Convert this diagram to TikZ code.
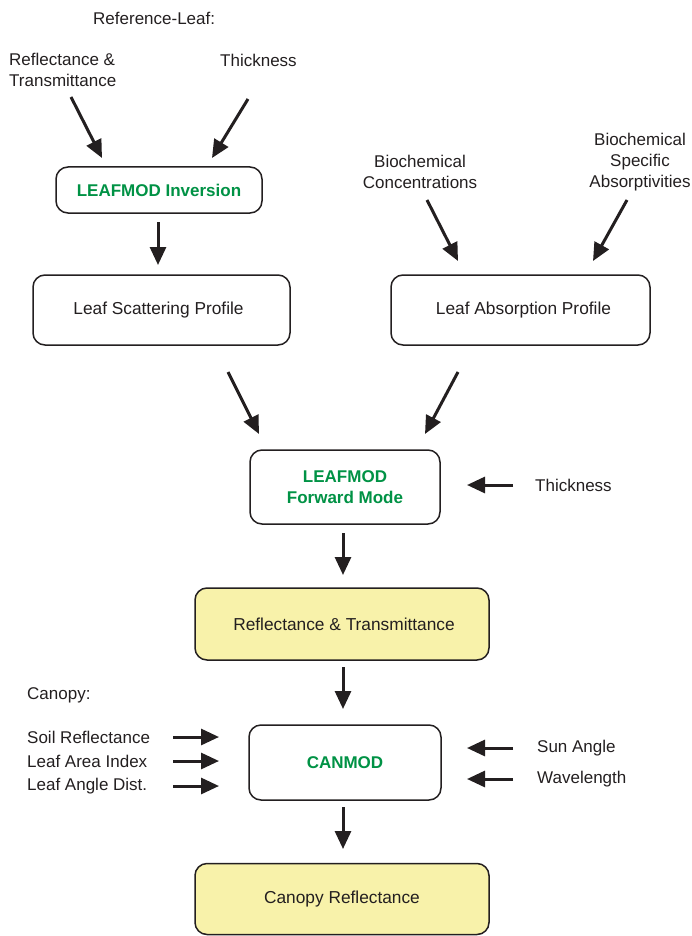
\documentclass[tikz,border=0pt]{standalone}
\usepackage{fontspec}
\setmainfont{Liberation Sans}
\usetikzlibrary{arrows.meta}
\definecolor{ink}{RGB}{35,31,32}
\definecolor{modgreen}{RGB}{0,146,69}
\definecolor{paleyellow}{RGB}{248,242,170}
\begin{document}
\begin{tikzpicture}[x=1pt,y=-1pt,
  txt/.style={inner sep=0pt,text=ink,font=\fontsize{17}{21}\selectfont},
  box/.style={draw=ink,line width=1.5pt,rounded corners=12pt,fill=white,text=ink,
    font=\fontsize{17.3}{21}\selectfont,align=center,inner sep=0pt},
  modbox/.style={box,text=modgreen,font=\fontsize{17}{21}\selectfont\bfseries},
  resbox/.style={box,fill=paleyellow},
  arr/.style={draw=ink,line width=3pt,-{Triangle[length=18pt,width=16pt]}}]
\useasboundingbox (0,0) rectangle (691,936);
% boxes
\node[modbox,minimum width=206pt,minimum height=46pt] (inv) at (159,190) {LEAFMOD Inversion};
\node[box,minimum width=257pt,minimum height=70pt] (scat) at (161.5,310) {\hspace*{-6pt}Leaf Scattering Profile};
\node[box,minimum width=259pt,minimum height=70pt] (abs) at (520.5,310) {\hspace*{6pt}Leaf Absorption Profile};
\node[modbox,minimum width=190pt,minimum height=74pt] (fwd) at (345,487) {LEAFMOD\\Forward Mode};
\node[resbox,minimum width=294pt,minimum height=72pt] (rt) at (342,624) {\hspace*{4pt}Reflectance \& Transmittance};
\node[modbox,minimum width=192pt,minimum height=75pt] (can) at (345,762.5) {CANMOD};
\node[resbox,minimum width=294pt,minimum height=71pt] (cr) at (342,899) {Canopy Reflectance};
% labels
\node[txt,anchor=west] (refleaf) at (93,18) {Reference-Leaf:};
\node[txt,anchor=west,align=left] (rtin) at (9,70) {Reflectance \&\\Transmittance};
\node[txt,anchor=west] (thk1) at (220,60) {Thickness};
\node[txt,align=center] (bconc) at (420,172) {Biochemical\\Concentrations};
\node[txt,align=center] (bspec) at (640,162) {Biochemical\\Specific\\Absorptivities};
\node[txt,anchor=west] (thk2) at (535,485) {Thickness};
\node[txt,anchor=west] (canopy) at (27,695) {Canopy:};
\node[txt,anchor=west] (soil) at (27,737) {Soil Reflectance};
\node[txt,anchor=west] (lai) at (27,761) {Leaf Area Index};
\node[txt,anchor=west] (lad) at (27,786) {Leaf Angle Dist.};
\node[txt,anchor=west] (sun) at (537,748) {Sun Angle};
\node[txt,anchor=west] (wave) at (537,779) {Wavelength};
% arrow end points
\coordinate (a1s) at (71,97);   \coordinate (a1e) at (102,158);
\coordinate (a2s) at (248,99);  \coordinate (a2e) at (212,158);
\coordinate (a3s) at (158,222); \coordinate (a3e) at (158,265);
\coordinate (a4s) at (427,200); \coordinate (a4e) at (458,261);
\coordinate (a5s) at (627,200); \coordinate (a5e) at (593,261);
\coordinate (a6s) at (228,372); \coordinate (a6e) at (259,434);
\coordinate (a7s) at (458,372); \coordinate (a7e) at (425,434);
\coordinate (a8s) at (513,485); \coordinate (a8e) at (467,485);
\coordinate (a9s) at (343,533); \coordinate (a9e) at (343,575);
\coordinate (a10s) at (343,667); \coordinate (a10e) at (343,709);
\coordinate (a11s) at (173,737); \coordinate (a11e) at (219,737);
\coordinate (a12s) at (173,761); \coordinate (a12e) at (219,761);
\coordinate (a13s) at (173,786); \coordinate (a13e) at (219,786);
\coordinate (a14s) at (513,748); \coordinate (a14e) at (467,748);
\coordinate (a15s) at (513,779); \coordinate (a15e) at (467,779);
\coordinate (a16s) at (343,807); \coordinate (a16e) at (343,849);
\foreach \i in {1,...,16}{\draw[arr] (a\i s) -- (a\i e);}
\end{tikzpicture}
\end{document}
